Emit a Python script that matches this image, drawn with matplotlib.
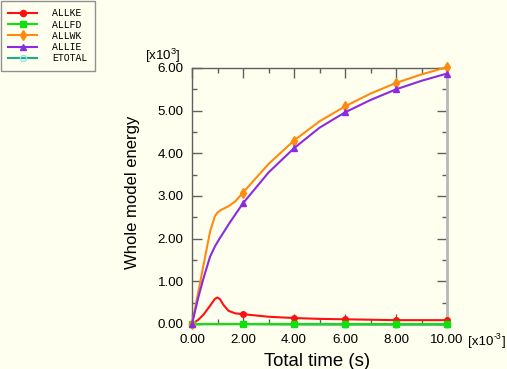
import numpy as np
import matplotlib
matplotlib.use("Agg")
import matplotlib.pyplot as plt

plt.rcParams['font.family'] = ['Liberation Sans', 'DejaVu Sans']
plt.rcParams['mathtext.fontset'] = 'custom'
plt.rcParams['mathtext.rm'] = 'Liberation Sans'
plt.rcParams['mathtext.it'] = 'Liberation Sans'

# time in [x10^-3] s, energies in [x10^3]
t = [0.0, 0.25, 0.45, 0.71, 0.9, 1.0, 1.1, 1.23, 1.43, 1.69, 2.0,
     3.0, 4.0, 5.0, 6.0, 7.0, 8.0, 9.0, 10.0]
allke = [0.0, 0.10, 0.22, 0.43, 0.59, 0.62, 0.58, 0.45, 0.31, 0.25, 0.23,
         0.17, 0.14, 0.12, 0.11, 0.10, 0.09, 0.09, 0.09]
allfd = [0.0] * len(t)
allwk = [0.0, 0.76, 1.38, 2.17, 2.53, 2.61, 2.66, 2.70, 2.76, 2.87, 3.08,
         3.75, 4.30, 4.75, 5.10, 5.40, 5.65, 5.85, 6.02]
allie = [0.0, 0.63, 1.07, 1.58, 1.82, 1.92, 2.02, 2.14, 2.33, 2.56, 2.83,
         3.55, 4.12, 4.60, 4.96, 5.25, 5.50, 5.70, 5.87]
etotal = [0.0, 0.0, 0.0, 0.0, 0.0, 0.0, 0.0, 0.0, 0.0, 0.0, 0.0,
          -0.005, -0.008, -0.01, -0.012, -0.012, -0.013, -0.013, -0.013]
marks = [0, 10, 12, 14, 16, 18]

bg = '#fffff0'
fig = plt.figure(figsize=(5.07, 3.69), dpi=100, facecolor=bg)
ax = fig.add_axes([192/507, 1-324/369, 255/507, 256/369], facecolor=bg)

series = [
    (allke, 'ALLKE', '#ff1010', 'o', '#ff1010', 4),
    (allfd, 'ALLFD', '#10e010', 's', '#10e010', 4),
    (allwk, 'ALLWK', '#ff8a10', 'd', '#ff8a10', 5),
    (allie, 'ALLIE', '#8a2be2', '^', '#8a2be2', 4),
    (etotal, 'ETOTAL', '#20a890', 'o', 'none', 4),
]
for y, name, col, mk, mfc, ms in series:
    mec = '#90e8e0' if name == 'ETOTAL' else col
    ax.plot(t, y, color=col, lw=1.5, marker=mk, markevery=marks, ms=ms,
            mfc=mfc, mec=mec, label=name, clip_on=False,
            zorder=2 if name == 'ETOTAL' else 3)

ax.set_xlim(0, 10)
ax.set_ylim(0, 6)
ax.set_xticks(np.arange(0, 10.1, 2))
ax.set_xticks(np.arange(1, 10, 2), minor=True)
ax.set_yticks(np.arange(0, 6.1, 1))
ax.set_yticks(np.arange(0.5, 6, 1), minor=True)
ax.set_xticklabels(['%.2f' % v for v in np.arange(0, 10.1, 2)])
ax.set_yticklabels(['%.2f' % v for v in np.arange(0, 6.1, 1)])
ax.tick_params(which='both', direction='in', top=True, right=True,
               color='#606060', labelsize=9.6)
ax.tick_params(which='major', length=7, width=1)
ax.tick_params(which='minor', length=3.5, width=1)
ax.tick_params(axis='x', which='major', pad=7.5)
ax.tick_params(axis='y', which='major', pad=6)
for s in ['left', 'top', 'bottom']:
    ax.spines[s].set_color('#606060')
    ax.spines[s].set_linewidth(1)
ax.spines['right'].set_color('#b8b8b8')
ax.spines['right'].set_linewidth(2)

fig.text(317/507, 1-365.5/369, 'Total time (s)', fontsize=13.4,
         ha='center', va='baseline')
fig.text(132/507, 1-192.5/369, 'Whole model energy', fontsize=12,
         ha='center', va='center', rotation=90)
fig.text(145/507, 1-60/369, r'[x10$^{3}$]', fontsize=9.6,
         ha='left', va='baseline')
# x multiplier built from pieces so it fits the right edge
fig.text(468/507, 1-345/369, '[x10', fontsize=9.6, ha='left', va='baseline')
fig.text(493.5/507, 1-339/369, '-3', fontsize=6.2, ha='left', va='baseline')
fig.text(506/507, 1-345/369, ']', fontsize=9.6, ha='right', va='baseline')

leg = fig.legend(loc='upper left', bbox_to_anchor=(0.0, 1.0),
                 bbox_transform=fig.transFigure, borderaxespad=0.1,
                 prop={'family': 'Liberation Mono', 'size': 7},
                 handlelength=3.0, handletextpad=1.5, labelspacing=0.13,
                 borderpad=0.75, fancybox=False, markerscale=1.1,
                 framealpha=1, facecolor=bg, edgecolor='#909090')
leg.get_frame().set_linewidth(1)

fig.savefig('out.png', dpi=100, facecolor=bg)
